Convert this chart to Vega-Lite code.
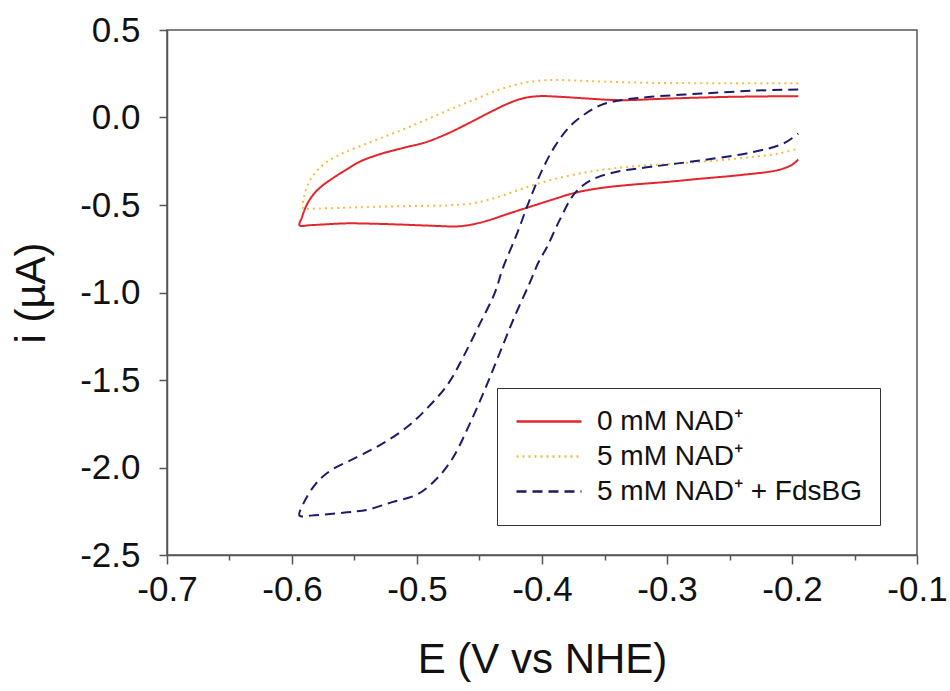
{
  "$schema": "https://vega.github.io/schema/vega-lite/v6.json",
  "width": 750,
  "height": 525,
  "autosize": {"type": "none"},
  "padding": {"left": 167, "top": 30, "right": 33, "bottom": 136},
  "background": "white",
  "config": {
    "view": {"stroke": "#555", "strokeWidth": 1.5},
    "font": "Liberation Sans"
  },
  "data": {
    "values": [
      {"s": "0 mM NAD⁺", "o": 1, "E": -0.195, "i": 0.122},
      {"s": "0 mM NAD⁺", "o": 2, "E": -0.25, "i": 0.118},
      {"s": "0 mM NAD⁺", "o": 3, "E": -0.30, "i": 0.108},
      {"s": "0 mM NAD⁺", "o": 4, "E": -0.337, "i": 0.099},
      {"s": "0 mM NAD⁺", "o": 5, "E": -0.365, "i": 0.109},
      {"s": "0 mM NAD⁺", "o": 6, "E": -0.385, "i": 0.118},
      {"s": "0 mM NAD⁺", "o": 7, "E": -0.402, "i": 0.122},
      {"s": "0 mM NAD⁺", "o": 8, "E": -0.415, "i": 0.110},
      {"s": "0 mM NAD⁺", "o": 9, "E": -0.427, "i": 0.08},
      {"s": "0 mM NAD⁺", "o": 10, "E": -0.443, "i": 0.025},
      {"s": "0 mM NAD⁺", "o": 11, "E": -0.459, "i": -0.034},
      {"s": "0 mM NAD⁺", "o": 12, "E": -0.475, "i": -0.09},
      {"s": "0 mM NAD⁺", "o": 13, "E": -0.492, "i": -0.139},
      {"s": "0 mM NAD⁺", "o": 14, "E": -0.51, "i": -0.172},
      {"s": "0 mM NAD⁺", "o": 15, "E": -0.528, "i": -0.206},
      {"s": "0 mM NAD⁺", "o": 16, "E": -0.545, "i": -0.25},
      {"s": "0 mM NAD⁺", "o": 17, "E": -0.557, "i": -0.30},
      {"s": "0 mM NAD⁺", "o": 18, "E": -0.568, "i": -0.35},
      {"s": "0 mM NAD⁺", "o": 19, "E": -0.577, "i": -0.397},
      {"s": "0 mM NAD⁺", "o": 20, "E": -0.584, "i": -0.45},
      {"s": "0 mM NAD⁺", "o": 21, "E": -0.589, "i": -0.511},
      {"s": "0 mM NAD⁺", "o": 22, "E": -0.592, "i": -0.57},
      {"s": "0 mM NAD⁺", "o": 23, "E": -0.594, "i": -0.616},
      {"s": "0 mM NAD⁺", "o": 24, "E": -0.585, "i": -0.615},
      {"s": "0 mM NAD⁺", "o": 25, "E": -0.557, "i": -0.605},
      {"s": "0 mM NAD⁺", "o": 26, "E": -0.535, "i": -0.607},
      {"s": "0 mM NAD⁺", "o": 27, "E": -0.516, "i": -0.611},
      {"s": "0 mM NAD⁺", "o": 28, "E": -0.49, "i": -0.618},
      {"s": "0 mM NAD⁺", "o": 29, "E": -0.467, "i": -0.622},
      {"s": "0 mM NAD⁺", "o": 30, "E": -0.455, "i": -0.61},
      {"s": "0 mM NAD⁺", "o": 31, "E": -0.443, "i": -0.588},
      {"s": "0 mM NAD⁺", "o": 32, "E": -0.427, "i": -0.55},
      {"s": "0 mM NAD⁺", "o": 33, "E": -0.41, "i": -0.511},
      {"s": "0 mM NAD⁺", "o": 34, "E": -0.392, "i": -0.47},
      {"s": "0 mM NAD⁺", "o": 35, "E": -0.374, "i": -0.431},
      {"s": "0 mM NAD⁺", "o": 36, "E": -0.355, "i": -0.405},
      {"s": "0 mM NAD⁺", "o": 37, "E": -0.333, "i": -0.387},
      {"s": "0 mM NAD⁺", "o": 38, "E": -0.30, "i": -0.368},
      {"s": "0 mM NAD⁺", "o": 39, "E": -0.272, "i": -0.349},
      {"s": "0 mM NAD⁺", "o": 40, "E": -0.24, "i": -0.328},
      {"s": "0 mM NAD⁺", "o": 41, "E": -0.211, "i": -0.30},
      {"s": "0 mM NAD⁺", "o": 42, "E": -0.2, "i": -0.27},
      {"s": "0 mM NAD⁺", "o": 43, "E": -0.195, "i": -0.24},

      {"s": "5 mM NAD⁺", "o": 1, "E": -0.195, "i": 0.195},
      {"s": "5 mM NAD⁺", "o": 2, "E": -0.25, "i": 0.196},
      {"s": "5 mM NAD⁺", "o": 3, "E": -0.313, "i": 0.198},
      {"s": "5 mM NAD⁺", "o": 4, "E": -0.35, "i": 0.205},
      {"s": "5 mM NAD⁺", "o": 5, "E": -0.375, "i": 0.212},
      {"s": "5 mM NAD⁺", "o": 6, "E": -0.394, "i": 0.214},
      {"s": "5 mM NAD⁺", "o": 7, "E": -0.41, "i": 0.204},
      {"s": "5 mM NAD⁺", "o": 8, "E": -0.422, "i": 0.185},
      {"s": "5 mM NAD⁺", "o": 9, "E": -0.435, "i": 0.157},
      {"s": "5 mM NAD⁺", "o": 10, "E": -0.455, "i": 0.10},
      {"s": "5 mM NAD⁺", "o": 11, "E": -0.475, "i": 0.042},
      {"s": "5 mM NAD⁺", "o": 12, "E": -0.495, "i": -0.02},
      {"s": "5 mM NAD⁺", "o": 13, "E": -0.516, "i": -0.082},
      {"s": "5 mM NAD⁺", "o": 14, "E": -0.537, "i": -0.14},
      {"s": "5 mM NAD⁺", "o": 15, "E": -0.557, "i": -0.197},
      {"s": "5 mM NAD⁺", "o": 16, "E": -0.568, "i": -0.235},
      {"s": "5 mM NAD⁺", "o": 17, "E": -0.577, "i": -0.282},
      {"s": "5 mM NAD⁺", "o": 18, "E": -0.584, "i": -0.34},
      {"s": "5 mM NAD⁺", "o": 19, "E": -0.589, "i": -0.416},
      {"s": "5 mM NAD⁺", "o": 20, "E": -0.591, "i": -0.521},
      {"s": "5 mM NAD⁺", "o": 21, "E": -0.585, "i": -0.521},
      {"s": "5 mM NAD⁺", "o": 22, "E": -0.56, "i": -0.516},
      {"s": "5 mM NAD⁺", "o": 23, "E": -0.536, "i": -0.511},
      {"s": "5 mM NAD⁺", "o": 24, "E": -0.505, "i": -0.506},
      {"s": "5 mM NAD⁺", "o": 25, "E": -0.475, "i": -0.502},
      {"s": "5 mM NAD⁺", "o": 26, "E": -0.455, "i": -0.49},
      {"s": "5 mM NAD⁺", "o": 27, "E": -0.435, "i": -0.454},
      {"s": "5 mM NAD⁺", "o": 28, "E": -0.415, "i": -0.405},
      {"s": "5 mM NAD⁺", "o": 29, "E": -0.394, "i": -0.359},
      {"s": "5 mM NAD⁺", "o": 30, "E": -0.37, "i": -0.32},
      {"s": "5 mM NAD⁺", "o": 31, "E": -0.345, "i": -0.292},
      {"s": "5 mM NAD⁺", "o": 32, "E": -0.32, "i": -0.275},
      {"s": "5 mM NAD⁺", "o": 33, "E": -0.292, "i": -0.263},
      {"s": "5 mM NAD⁺", "o": 34, "E": -0.26, "i": -0.245},
      {"s": "5 mM NAD⁺", "o": 35, "E": -0.231, "i": -0.225},
      {"s": "5 mM NAD⁺", "o": 36, "E": -0.21, "i": -0.205},
      {"s": "5 mM NAD⁺", "o": 37, "E": -0.195, "i": -0.177},

      {"s": "5 mM NAD⁺ + FdsBG", "o": 1, "E": -0.195, "i": 0.16},
      {"s": "5 mM NAD⁺ + FdsBG", "o": 2, "E": -0.231, "i": 0.153},
      {"s": "5 mM NAD⁺ + FdsBG", "o": 3, "E": -0.272, "i": 0.137},
      {"s": "5 mM NAD⁺ + FdsBG", "o": 4, "E": -0.313, "i": 0.118},
      {"s": "5 mM NAD⁺ + FdsBG", "o": 5, "E": -0.337, "i": 0.099},
      {"s": "5 mM NAD⁺ + FdsBG", "o": 6, "E": -0.353, "i": 0.071},
      {"s": "5 mM NAD⁺ + FdsBG", "o": 7, "E": -0.365, "i": 0.023},
      {"s": "5 mM NAD⁺ + FdsBG", "o": 8, "E": -0.378, "i": -0.053},
      {"s": "5 mM NAD⁺ + FdsBG", "o": 9, "E": -0.39, "i": -0.168},
      {"s": "5 mM NAD⁺ + FdsBG", "o": 10, "E": -0.4, "i": -0.302},
      {"s": "5 mM NAD⁺ + FdsBG", "o": 11, "E": -0.41, "i": -0.473},
      {"s": "5 mM NAD⁺ + FdsBG", "o": 12, "E": -0.42, "i": -0.664},
      {"s": "5 mM NAD⁺ + FdsBG", "o": 13, "E": -0.431, "i": -0.855},
      {"s": "5 mM NAD⁺ + FdsBG", "o": 14, "E": -0.438, "i": -1.006},
      {"s": "5 mM NAD⁺ + FdsBG", "o": 15, "E": -0.451, "i": -1.197},
      {"s": "5 mM NAD⁺ + FdsBG", "o": 16, "E": -0.463, "i": -1.368},
      {"s": "5 mM NAD⁺ + FdsBG", "o": 17, "E": -0.475, "i": -1.521},
      {"s": "5 mM NAD⁺ + FdsBG", "o": 18, "E": -0.491, "i": -1.655},
      {"s": "5 mM NAD⁺ + FdsBG", "o": 19, "E": -0.508, "i": -1.769},
      {"s": "5 mM NAD⁺ + FdsBG", "o": 20, "E": -0.528, "i": -1.865},
      {"s": "5 mM NAD⁺ + FdsBG", "o": 21, "E": -0.548, "i": -1.941},
      {"s": "5 mM NAD⁺ + FdsBG", "o": 22, "E": -0.569, "i": -2.017},
      {"s": "5 mM NAD⁺ + FdsBG", "o": 23, "E": -0.581, "i": -2.093},
      {"s": "5 mM NAD⁺ + FdsBG", "o": 24, "E": -0.591, "i": -2.208},
      {"s": "5 mM NAD⁺ + FdsBG", "o": 25, "E": -0.594, "i": -2.275},
      {"s": "5 mM NAD⁺ + FdsBG", "o": 26, "E": -0.585, "i": -2.275},
      {"s": "5 mM NAD⁺ + FdsBG", "o": 27, "E": -0.556, "i": -2.256},
      {"s": "5 mM NAD⁺ + FdsBG", "o": 28, "E": -0.54, "i": -2.242},
      {"s": "5 mM NAD⁺ + FdsBG", "o": 29, "E": -0.52, "i": -2.198},
      {"s": "5 mM NAD⁺ + FdsBG", "o": 30, "E": -0.499, "i": -2.151},
      {"s": "5 mM NAD⁺ + FdsBG", "o": 31, "E": -0.483, "i": -2.055},
      {"s": "5 mM NAD⁺ + FdsBG", "o": 32, "E": -0.471, "i": -1.941},
      {"s": "5 mM NAD⁺ + FdsBG", "o": 33, "E": -0.459, "i": -1.769},
      {"s": "5 mM NAD⁺ + FdsBG", "o": 34, "E": -0.446, "i": -1.559},
      {"s": "5 mM NAD⁺ + FdsBG", "o": 35, "E": -0.434, "i": -1.349},
      {"s": "5 mM NAD⁺ + FdsBG", "o": 36, "E": -0.422, "i": -1.139},
      {"s": "5 mM NAD⁺ + FdsBG", "o": 37, "E": -0.41, "i": -0.948},
      {"s": "5 mM NAD⁺ + FdsBG", "o": 38, "E": -0.403, "i": -0.83},
      {"s": "5 mM NAD⁺ + FdsBG", "o": 39, "E": -0.396, "i": -0.74},
      {"s": "5 mM NAD⁺ + FdsBG", "o": 40, "E": -0.386, "i": -0.588},
      {"s": "5 mM NAD⁺ + FdsBG", "o": 41, "E": -0.374, "i": -0.435},
      {"s": "5 mM NAD⁺ + FdsBG", "o": 42, "E": -0.361, "i": -0.359},
      {"s": "5 mM NAD⁺ + FdsBG", "o": 43, "E": -0.341, "i": -0.311},
      {"s": "5 mM NAD⁺ + FdsBG", "o": 44, "E": -0.313, "i": -0.282},
      {"s": "5 mM NAD⁺ + FdsBG", "o": 45, "E": -0.272, "i": -0.244},
      {"s": "5 mM NAD⁺ + FdsBG", "o": 46, "E": -0.231, "i": -0.197},
      {"s": "5 mM NAD⁺ + FdsBG", "o": 47, "E": -0.207, "i": -0.149},
      {"s": "5 mM NAD⁺ + FdsBG", "o": 48, "E": -0.195, "i": -0.092}
    ]
  },
  "mark": {"type": "line", "interpolate": "catmull-rom", "strokeWidth": 2},
  "encoding": {
    "x": {
      "field": "E", "type": "quantitative",
      "scale": {"domain": [-0.7, -0.1], "nice": false, "zero": false},
      "axis": {
        "title": "E (V vs NHE)",
        "titleFontSize": 42, "titleFontWeight": "normal", "titleColor": "#111", "titlePadding": 32,
        "values": [-0.7, -0.65, -0.6, -0.55, -0.5, -0.45, -0.4, -0.35, -0.3, -0.25, -0.2, -0.15, -0.1],
        "labelExpr": "abs(datum.value*10 - round(datum.value*10)) < 0.001 ? (datum.value < 0 ? '-' : '') + format(abs(datum.value), '.1f') : ''",
        "labelFontSize": 35, "labelColor": "#111", "labelPadding": 8,
        "labelFlush": false, "labelOverlap": false,
        "tickSize": {"condition": {"test": "abs(datum.value*10 - round(datum.value*10)) < 0.001", "value": 9}, "value": 5},
        "tickColor": "#555", "tickWidth": 1.5,
        "domainColor": "#555", "domainWidth": 1.5,
        "grid": false
      }
    },
    "y": {
      "field": "i", "type": "quantitative",
      "scale": {"domain": [-2.5, 0.5], "nice": false, "zero": false},
      "axis": {
        "title": "i (µA)",
        "titleFontSize": 42, "titleFontWeight": "normal", "titleColor": "#111", "titlePadding": 26,
        "values": [-2.5, -2, -1.5, -1, -0.5, 0, 0.5],
        "labelExpr": "(datum.value < 0 ? '-' : '') + format(abs(datum.value), '.1f')",
        "labelFontSize": 35, "labelColor": "#111", "labelPadding": 19,
        "labelFlush": false, "labelOverlap": false,
        "tickSize": 8, "tickColor": "#555", "tickWidth": 1.5,
        "domainColor": "#555", "domainWidth": 1.5,
        "grid": false
      }
    },
    "order": {"field": "o", "type": "quantitative"},
    "detail": {"field": "s"},
    "color": {
      "field": "s", "type": "nominal",
      "scale": {
        "domain": ["0 mM NAD⁺", "5 mM NAD⁺", "5 mM NAD⁺ + FdsBG"],
        "range": ["#e3262c", "#f5bb45", "#1c1b6a"]
      },
      "legend": {
        "title": null, "orient": "none", "legendX": 330, "legendY": 358,
        "symbolType": "stroke", "symbolSize": 4225, "symbolStrokeWidth": 2.5,
        "labelFontSize": 28, "labelColor": "#111", "labelLimit": 400,
        "padding": 18, "rowPadding": 4, "clipHeight": 31, "labelOffset": 14,
        "strokeColor": "#333", "fillColor": "white"
      }
    },
    "strokeDash": {
      "field": "s", "type": "nominal",
      "scale": {
        "domain": ["0 mM NAD⁺", "5 mM NAD⁺", "5 mM NAD⁺ + FdsBG"],
        "range": [[1, 0], [2, 4], [10, 6]]
      },
      "legend": {
        "title": null, "orient": "none", "legendX": 330, "legendY": 358,
        "symbolType": "stroke", "symbolSize": 4225, "symbolStrokeWidth": 2.5,
        "labelFontSize": 28, "labelColor": "#111", "labelLimit": 400,
        "padding": 18, "rowPadding": 4, "clipHeight": 31, "labelOffset": 14,
        "strokeColor": "#333", "fillColor": "white"
      }
    }
  }
}
